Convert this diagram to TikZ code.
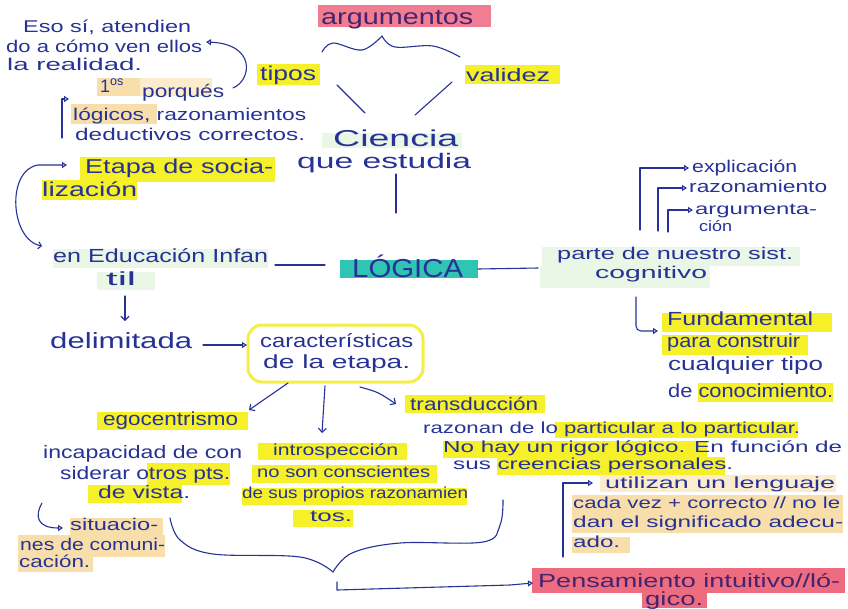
\documentclass[tikz,border=0pt]{standalone}
\usepackage{fontspec}
\setmainfont{Liberation Sans}
\usetikzlibrary{arrows.meta}
\definecolor{ink}{RGB}{38,50,150}
\definecolor{inkp}{RGB}{70,35,110}
\definecolor{hy}{RGB}{246,240,40}
\definecolor{hp}{RGB}{240,125,145}
\definecolor{hpb}{RGB}{238,108,128}
\definecolor{hb}{RGB}{248,222,170}
\definecolor{hbl}{RGB}{251,236,205}
\definecolor{ht}{RGB}{48,196,178}
\definecolor{hg}{RGB}{234,246,230}
\definecolor{outl}{RGB}{245,238,70}
\newcommand\W[2]{\resizebox{#1pt}{\height}{#2}}
\tikzset{
  tx/.style={anchor=base west, inner sep=0pt, text=ink},
  fsz/.style={font=\fontsize{#1}{#1}\selectfont},
  pen/.style={draw=ink, line width=1.1pt, line cap=round, line join=round},
  tri/.style={pen, -{Triangle[open, length=5pt, width=6pt]}},
  barb/.style={pen, -{Straight Barb[length=4pt, width=8pt]}},
}
\begin{document}
\begin{tikzpicture}[x=1pt,y=-1pt]
\fill[white] (0,0) rectangle (848,608);
\useasboundingbox (0,0) rectangle (848,608);
% ---------- highlights ----------
\fill[hp] (318,5) rectangle (491,27);
\fill[hy] (257,64) rectangle (320,85);
\fill[hy] (465,65) rectangle (560,84);
\fill[hbl] (97,78) rectangle (212,96);
\fill[hb] (97,78) rectangle (140,96);
\fill[hb] (71,104) rectangle (157,124);
\fill[hg] (322,133) rectangle (462,148);
\fill[hy] (80,157) rectangle (275,182);
\fill[hy] (42,180) rectangle (137,200);
\fill[hg] (53,249) rectangle (268,268);
\fill[hg] (97,272) rectangle (155,290);
\fill[hg] (542,247) rectangle (800,266);
\fill[hg] (540,266) rectangle (710,288);
\fill[ht] (340,260) rectangle (478,278);
\fill[hy] (97,412) rectangle (248,430);
\fill[hy] (405,395) rectangle (545,413);
\fill[hy] (555,422) rectangle (798,438);
\fill[hy] (443,441) rectangle (707,458);
\fill[hy] (497,457) rectangle (725,475);
\fill[hy] (147,463) rectangle (230,485);
\fill[hy] (88,485) rectangle (182,503);
\fill[hy] (258,443) rectangle (407,460);
\fill[hy] (252,465) rectangle (437,483);
\fill[hy] (242,488) rectangle (467,505);
\fill[hy] (293,510) rectangle (353,527);
\fill[hb] (70,518) rectangle (163,535);
\fill[hb] (18,535) rectangle (165,557);
\fill[hb] (18,557) rectangle (93,572);
\fill[hy] (662,313) rectangle (832,332);
\fill[hy] (662,335) rectangle (808,355);
\fill[hy] (698,383) rectangle (833,402);
\fill[hbl] (600,475) rectangle (836,492);
\fill[hb] (572,495) rectangle (843,533);
\fill[hb] (572,537) rectangle (630,553);
\fill[hpb] (532,568) rectangle (845,593);
\fill[hpb] (642,592) rectangle (707,608);
\draw[outl, line width=3pt, rounded corners=14pt] (248,325) rectangle (423,382);
% ---------- texts ----------
\node[tx,fsz=17] (eso1) at (23,32) {\W{168}{Eso sí, atendien}};
\node[tx,fsz=17] (eso2) at (6,52) {\W{196}{do a cómo ven ellos}};
\node[tx,fsz=17] (eso3) at (7,70) {\W{135}{la realidad.}};
\node[tx,fsz=18] (prim) at (100,92) {1\textsuperscript{os}};
\node[tx,fsz=18] (porq) at (142,97) {\W{82}{porqués}};
\node[tx,fsz=17] (log1) at (73,120) {\W{233}{lógicos, razonamientos}};
\node[tx,fsz=17] (log2) at (75,140) {\W{230}{deductivos correctos.}};
\node[tx,fsz=20] (tipos) at (260,80) {\W{56}{tipos}};
\node[tx,fsz=18] (valid) at (466,81) {\W{84}{validez}};
\node[tx,fsz=22,text=inkp] (argu) at (321,24) {\W{152}{argumentos}};
\node[tx,fsz=23] (cien1) at (333,146) {\W{125}{Ciencia}};
\node[tx,fsz=21] (cien2) at (297,168) {\W{174}{que estudia}};
\node[tx,fsz=26] (logica) at (352,277) {\W{111}{LÓGICA}};
\node[tx,fsz=19] (educ1) at (53,262) {\W{215}{en Educación Infan}};
\node[tx,fsz=19] (educ2) at (106,285) {\W{30}{til}};
\node[tx,fsz=20] (etapa1) at (85,173) {\W{188}{Etapa de socia-}};
\node[tx,fsz=20] (etapa2) at (42,196) {\W{95}{lización}};
\node[tx,fsz=22] (delim) at (50,348) {\W{142}{delimitada}};
\node[tx,fsz=19] (car1) at (260,347) {\W{153}{características}};
\node[tx,fsz=19] (car2) at (263,368) {\W{147}{de la etapa.}};
\node[tx,fsz=19] (ego) at (103,425) {\W{135}{egocentrismo}};
\node[tx,fsz=18] (trans) at (410,410) {\W{128}{transducción}};
\node[tx,fsz=16] (raz1) at (423,433) {\W{377}{razonan de lo particular a lo particular.}};
\node[tx,fsz=16] (raz2) at (443,452) {\W{399}{No hay un rigor lógico. En función de}};
\node[tx,fsz=16] (raz3) at (453,469) {\W{280}{sus creencias personales.}};
\node[tx,fsz=18] (inc1) at (43,458) {\W{199}{incapacidad de con}};
\node[tx,fsz=18] (inc2) at (60,479) {\W{170}{siderar otros pts.}};
\node[tx,fsz=18] (inc3) at (98,498) {\W{92}{de vista.}};
\node[tx,fsz=16] (intr1) at (273,455) {\W{125}{introspección}};
\node[tx,fsz=16] (intr2) at (257,477) {\W{173}{no son conscientes}};
\node[tx,fsz=16] (intr3) at (242,498) {\W{226}{de sus propios razonamien}};
\node[tx,fsz=16] (intr4) at (310,521) {\W{42}{tos.}};
\node[tx,fsz=17] (sit1) at (70,530) {\W{88}{situacio-}};
\node[tx,fsz=17] (sit2) at (20,550) {\W{145}{nes de comuni-}};
\node[tx,fsz=17] (sit3) at (19,567) {\W{71}{cación.}};
\node[tx,fsz=17] (parte1) at (557,259) {\W{236}{parte de nuestro sist.}};
\node[tx,fsz=17] (parte2) at (595,278) {\W{112}{cognitivo}};
\node[tx,fsz=17] (expl) at (692,172) {\W{105}{explicación}};
\node[tx,fsz=17] (razon) at (689,192) {\W{138}{razonamiento}};
\node[tx,fsz=16] (argm1) at (695,214) {\W{122}{argumenta-}};
\node[tx,fsz=15] (argm2) at (699,231) {\W{33}{ción}};
\node[tx,fsz=19] (fund1) at (667,325) {\W{146}{Fundamental}};
\node[tx,fsz=19] (fund2) at (667,347) {\W{133}{para construir}};
\node[tx,fsz=19] (fund3) at (668,370) {\W{155}{cualquier tipo}};
\node[tx,fsz=19] (fund4) at (668,397) {\W{165}{de conocimiento.}};
\node[tx,fsz=16] (uti1) at (605,488) {\W{230}{utilizan un lenguaje}};
\node[tx,fsz=16] (uti2) at (573,508) {\W{267}{cada vez + correcto // no le}};
\node[tx,fsz=16] (uti3) at (573,527) {\W{270}{dan el significado adecu-}};
\node[tx,fsz=16] (uti4) at (573,547) {\W{47}{ado.}};
\node[tx,fsz=19,text=inkp] (pens1) at (538,587) {\W{302}{Pensamiento intuitivo//ló-}};
\node[tx,fsz=19,text=inkp] (pens2) at (645,605) {\W{58}{gico.}};
% ---------- connectors ----------
\coordinate (c1) at (233,88);
\coordinate (c1e) at (206,42);
\draw[tri] (c1) .. controls (252,80) and (256,44) .. (c1e);
\coordinate (c2) at (62,138);
\draw[tri] (c2) -- (62,99) -- ([xshift=-4pt]log1.north west |- 0,99);
% brace above
\draw[pen] plot[smooth, tension=0.6] coordinates {(322,52) (333,43) (362,50) (382,36)};
\draw[pen] plot[smooth, tension=0.6] coordinates {(382,36) (395,47) (433,46) (460,57)};
\coordinate (tp) at (337,85);
\coordinate (vl) at (452,82);
\draw[pen] (tp) -- (365,113);
\draw[pen] (vl) -- (415,115);
\draw[pen] (396,174) -- (396,213);
\draw[pen] ([xshift=-77pt]logica.base west |- 0,265) -- ([xshift=-27pt]logica.base west |- 0,265);
\draw[pen] (478,269) -- ([xshift=-19pt]parte1.base west |- 0,268);
% etapa loop
\draw[pen, {Straight Barb[length=3pt, width=7pt]}-{Triangle[open, length=5pt, width=6pt]}]
  (42,246) .. controls (10,240) and (6,170) .. (38,165) -- (67,165);
\draw[barb] (125,296) -- (125,321);
\draw[tri] (203,345) -- (247,345);
\draw[barb] (288,383) -- (249,410);
\draw[barb] (325,386) -- (322,433);
\draw[barb] (360,387) .. controls (378,392) .. (396,404);
% lower brace
\draw[pen] plot[smooth, tension=0.6] coordinates {(170,518) (180,540) (213,554) (300,557) (333,572)};
\draw[pen] plot[smooth, tension=0.6] coordinates {(333,572) (352,553) (400,543) (483,542) (500,525) (503,500)};
\draw[tri] (337,582) -- (337,590) -- (510,585) -- ([xshift=-5pt]pens1.west |- 0,583);
% situaciones hook
\draw[tri] (42,503) .. controls (35,515) and (36,528) .. (63,528);
% utilizan
\draw[tri] (563,557) -- (563,483) -- (593,483);
% parte branches
\draw[tri] (640,230) -- (640,168) -- (689,168);
\draw[tri] (658,231) -- (658,188) -- (687,188);
\draw[tri] (668,232) -- (668,210) -- (693,210);
\draw[tri, rounded corners=5pt] (636,297) -- (636,331) -- (658,331);
\end{tikzpicture}
\end{document}
